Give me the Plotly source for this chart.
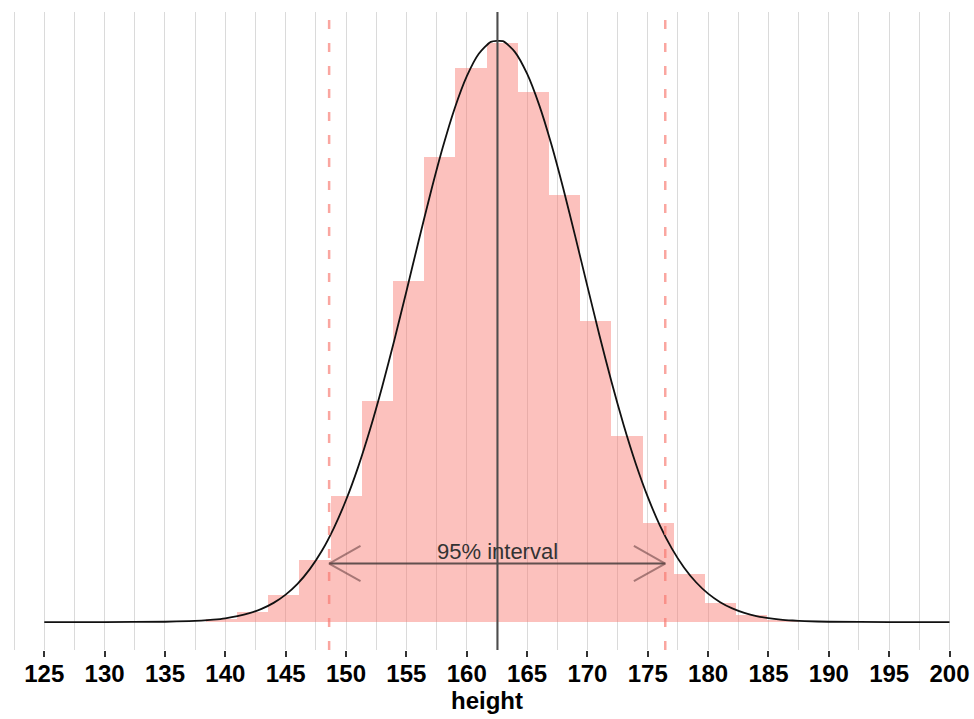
import plotly.graph_objects as go

# ---- data ----
bin_centers = [139.67, 142.26, 144.85, 147.43, 150.02, 152.60, 155.19, 157.77, 160.36,
               162.94, 165.53, 168.11, 170.70, 173.28, 175.87, 178.45, 181.04, 183.62, 186.21]
bin_density = [0.00025, 0.00095, 0.00261, 0.00599, 0.01217, 0.02134, 0.03293, 0.04490, 0.05350,
               0.05591, 0.05118, 0.04123, 0.02907, 0.01796, 0.00956, 0.00464, 0.00183, 0.00068, 0.00020]
bin_width = 2.585

curve_x = [125, 130, 135, 137, 138, 139, 140, 141, 142, 143, 144, 145, 146, 147, 148, 149, 150,
           151, 152, 153, 154, 155, 156, 157, 158, 159, 160, 161, 162, 163, 164, 165, 166, 167,
           168, 169, 170, 171, 172, 173, 174, 175, 176, 177, 178, 179, 180, 181, 182, 183, 184,
           185, 186, 187, 188, 190, 195, 200]
curve_y = [0.00000, 0.00000, 0.00003, 0.00009, 0.00014, 0.00023, 0.00036, 0.00056, 0.00085,
           0.00127, 0.00185, 0.00265, 0.00371, 0.00511, 0.00688, 0.00910, 0.01178, 0.01496,
           0.01863, 0.02274, 0.02721, 0.03192, 0.03672, 0.04140, 0.04576, 0.04959, 0.05268,
           0.05487, 0.05602, 0.05608, 0.05503, 0.05294, 0.04993, 0.04617, 0.04185, 0.03719,
           0.03241, 0.02767, 0.02317, 0.01902, 0.01531, 0.01208, 0.00934, 0.00709, 0.00527,
           0.00384, 0.00274, 0.00192, 0.00132, 0.00089, 0.00058, 0.00038, 0.00024, 0.00015,
           0.00009, 0.00003, 0.00000, 0.00000]

mean_height = 162.55
interval_lo = 148.6
interval_hi = 176.45
interval_label = "95% interval"
arrow_level = 0.00565

tick_vals = [125, 130, 135, 140, 145, 150, 155, 160, 165, 170, 175, 180, 185, 190, 195, 200]
tick_text = [str(v) for v in tick_vals]
x_title = "height"

FONT = "Liberation Sans, Arial, sans-serif"

fig = go.Figure()

fig.add_trace(go.Bar(
    x=bin_centers, y=bin_density, width=bin_width,
    marker=dict(color="rgba(248,118,109,0.45)", line=dict(width=0)),
    hoverinfo="x+y", showlegend=False,
))

fig.add_trace(go.Scatter(
    x=curve_x, y=curve_y, mode="lines",
    line=dict(color="#111111", width=1.8, shape="spline", smoothing=0.6),
    showlegend=False, hoverinfo="skip",
))

# arrow shaft
fig.add_trace(go.Scatter(
    x=[interval_lo, interval_hi], y=[arrow_level, arrow_level], mode="lines",
    line=dict(color="rgba(70,60,60,0.85)", width=2), showlegend=False, hoverinfo="skip",
))
# arrow heads (open chevrons)
head_dx = 2.6
head_dy = 0.0017
for tip, sgn in [(interval_lo, 1), (interval_hi, -1)]:
    fig.add_trace(go.Scatter(
        x=[tip + sgn * head_dx, tip, tip + sgn * head_dx],
        y=[arrow_level + head_dy, arrow_level, arrow_level - head_dy],
        mode="lines", line=dict(color="rgba(110,70,70,0.6)", width=2),
        showlegend=False, hoverinfo="skip",
    ))

shapes = [
    dict(type="line", xref="x", yref="paper", x0=interval_lo, x1=interval_lo, y0=0, y1=1,
         line=dict(color="rgba(248,118,109,0.65)", width=2.5, dash="9px,14px")),
    dict(type="line", xref="x", yref="paper", x0=interval_hi, x1=interval_hi, y0=0, y1=1,
         line=dict(color="rgba(248,118,109,0.65)", width=2.5, dash="9px,14px")),
    dict(type="line", xref="x", yref="paper", x0=mean_height, x1=mean_height, y0=0, y1=1,
         line=dict(color="#4d4d4d", width=2)),
]

fig.update_layout(
    width=974, height=719,
    margin=dict(l=0, r=0, t=12, b=69, autoexpand=False),
    paper_bgcolor="white", plot_bgcolor="white",
    bargap=0, shapes=shapes,
    font=dict(family=FONT, color="black"),
    annotations=[dict(
        x=mean_height, y=arrow_level, xref="x", yref="y", text=interval_label,
        showarrow=False, yanchor="bottom", yshift=-2,
        font=dict(family=FONT, size=22, color="#333333"),
    )],
)

fig.update_xaxes(
    range=[121.33, 202.03], automargin=False,
    tickmode="array", tickvals=tick_vals, ticktext=tick_text,
    ticks="outside", ticklen=6, tickwidth=1.5, tickcolor="#333333",
    ticklabelstandoff=-4,
    tickfont=dict(family=FONT, size=24, color="black", weight="bold"),
    showgrid=True, gridcolor="#dadada", gridwidth=1,
    minor=dict(dtick=2.5, tick0=0, showgrid=True, gridcolor="#dadada", gridwidth=1, ticks=""),
    showline=False, zeroline=False,
    title=dict(text=x_title, font=dict(family=FONT, size=24, color="black", weight="bold"), standoff=2),
)
fig.update_yaxes(
    range=[-0.0027, 0.0589], automargin=False,
    showgrid=False, zeroline=False, showticklabels=False, ticks="", showline=False,
)

fig.write_html("out.html", config={"displayModeBar": False},
               post_script="document.body.style.margin='0px';document.body.style.overflow='hidden';")
